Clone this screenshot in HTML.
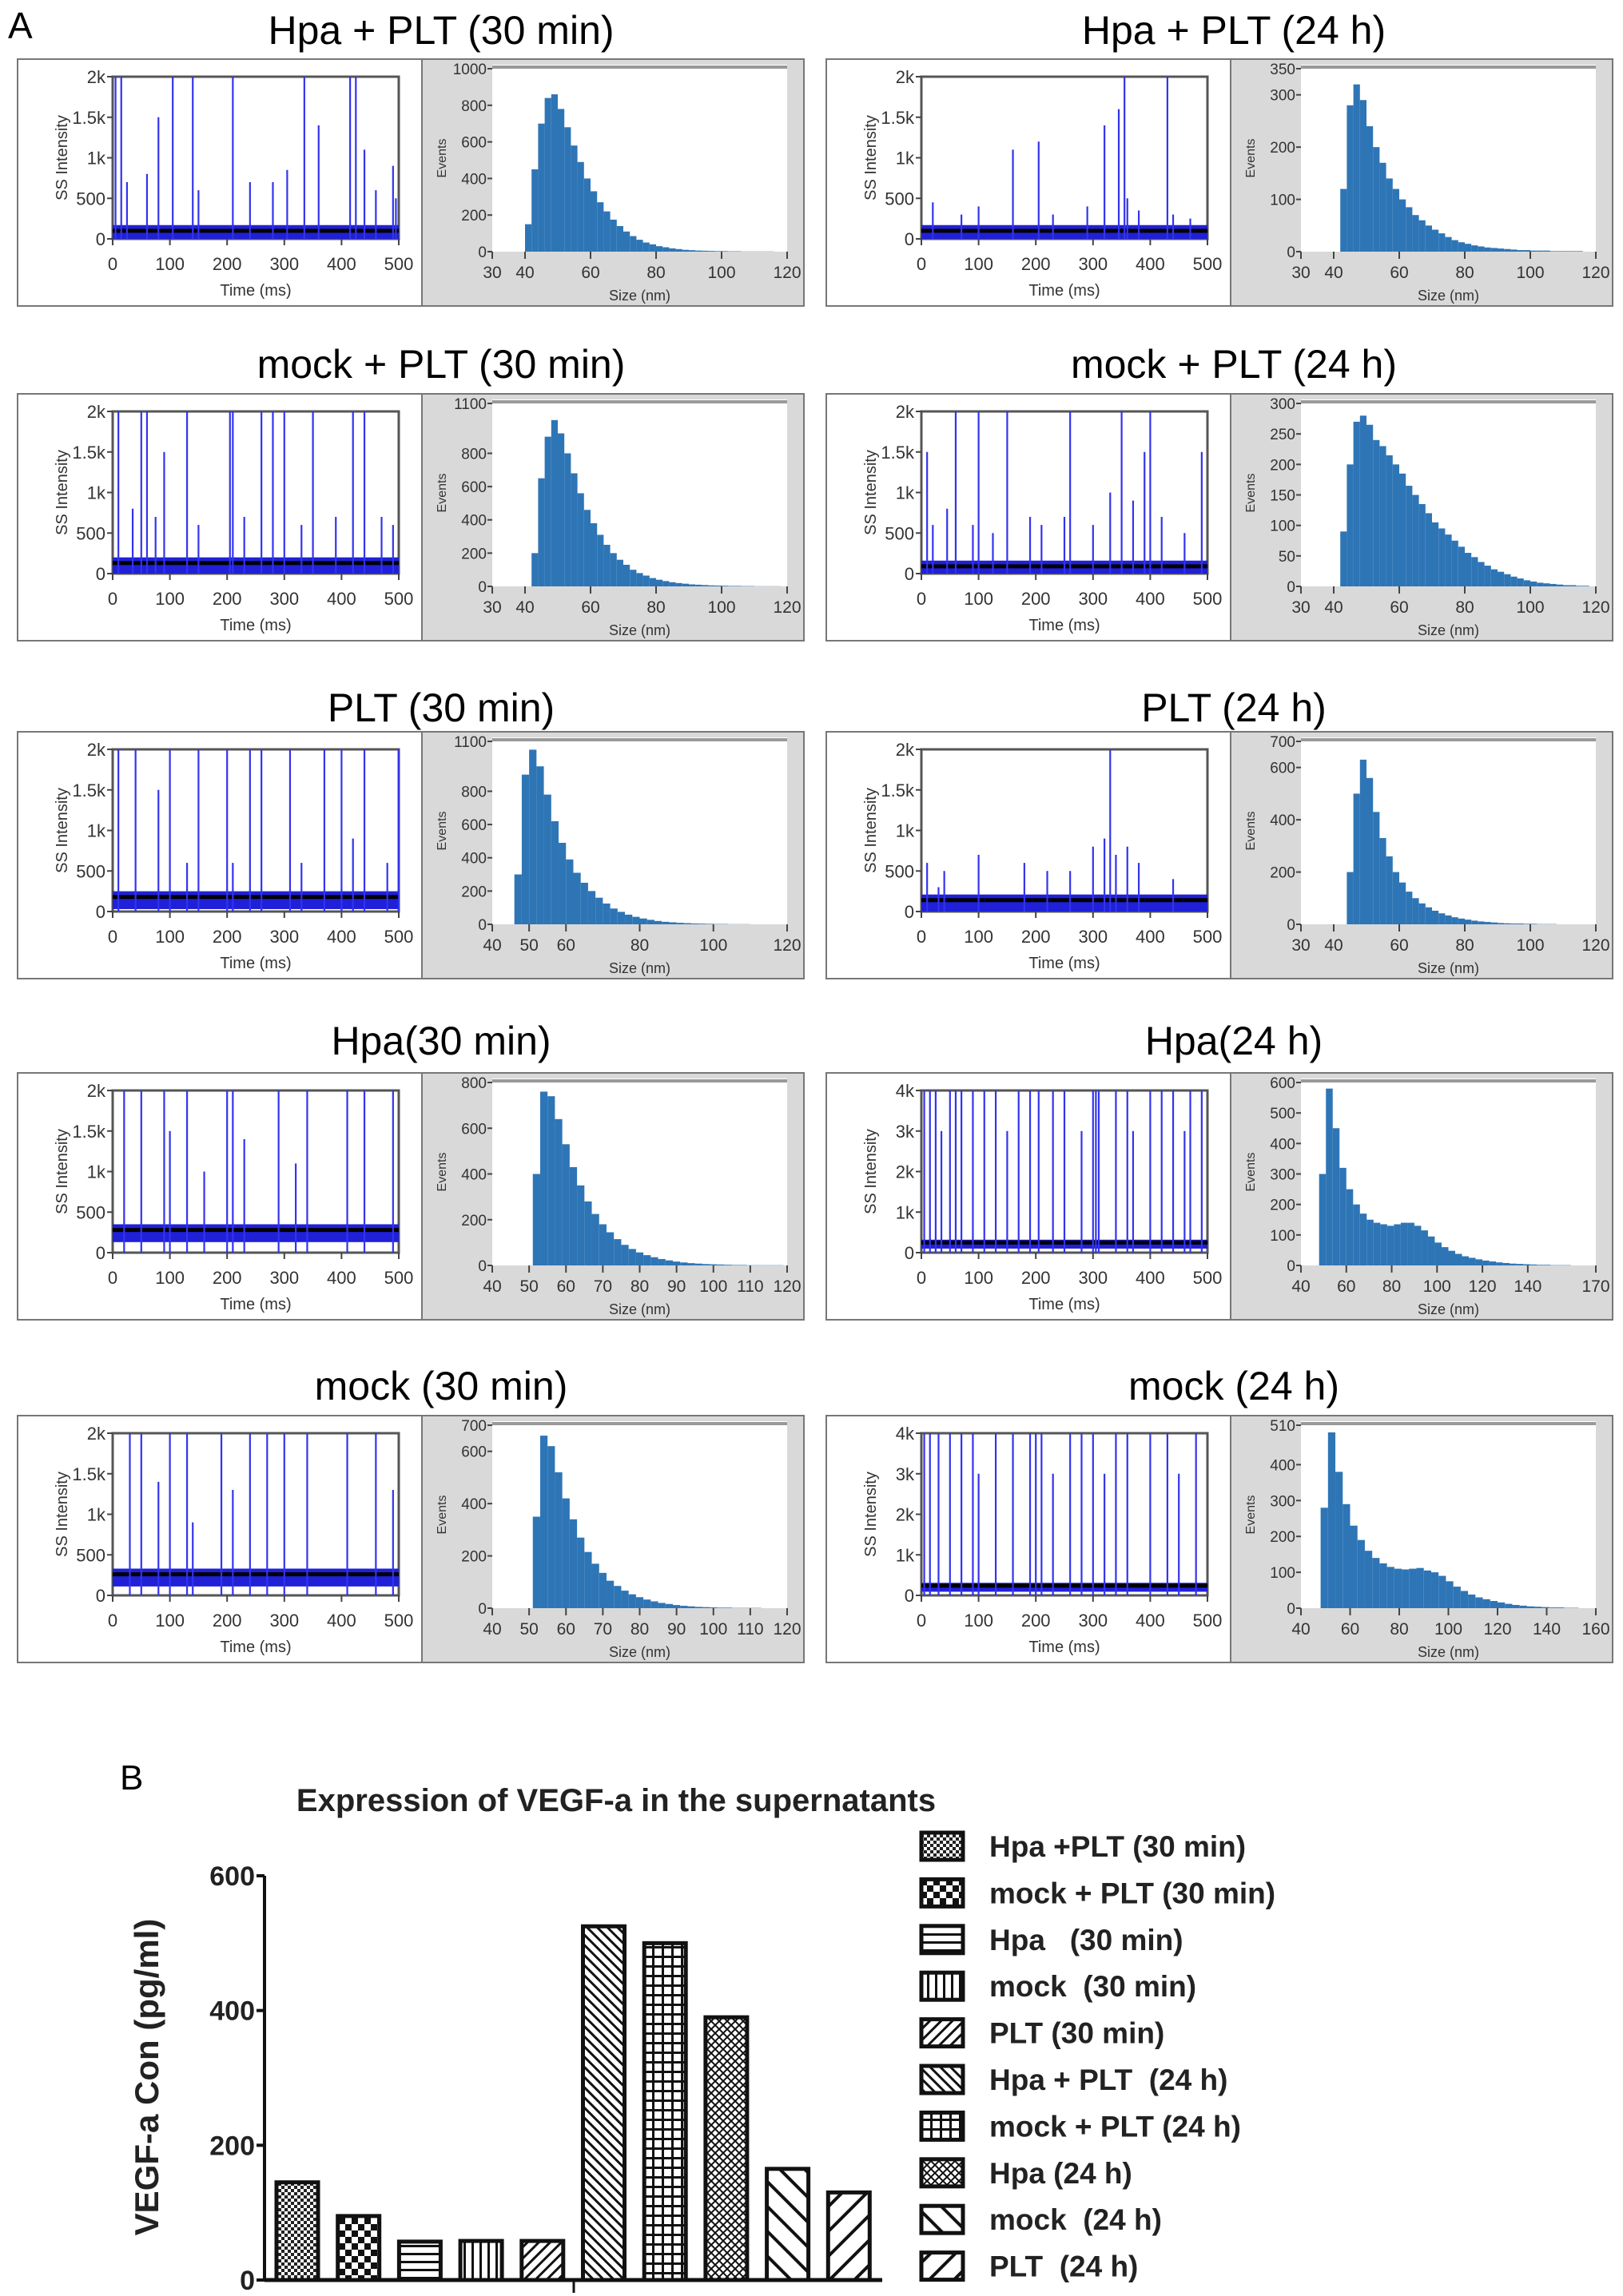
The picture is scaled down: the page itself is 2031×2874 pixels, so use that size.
<!DOCTYPE html>
<html><head><meta charset="utf-8"><style>
body{margin:0;background:#fff}
svg{display:block;font-family:"Liberation Sans",sans-serif}
</style></head><body>
<svg id="fig" width="2031" height="2874" viewBox="0 0 2031 2874" xmlns="http://www.w3.org/2000/svg">
<defs>
<pattern id="p0" patternUnits="userSpaceOnUse" width="8" height="8"><rect width="8" height="8" fill="#fff"/><rect width="4" height="4" fill="#222"/><rect x="4" y="4" width="4" height="4" fill="#222"/></pattern>
<pattern id="p1" patternUnits="userSpaceOnUse" width="16" height="16"><rect width="16" height="16" fill="#fff"/><rect width="8" height="8" fill="#111"/><rect x="8" y="8" width="8" height="8" fill="#111"/></pattern>
<pattern id="p2" patternUnits="userSpaceOnUse" width="10" height="10"><rect width="10" height="10" fill="#fff"/><rect y="0" width="10" height="3" fill="#111"/></pattern>
<pattern id="p3" patternUnits="userSpaceOnUse" width="10" height="10"><rect width="10" height="10" fill="#fff"/><rect x="0" width="3" height="10" fill="#111"/></pattern>
<pattern id="p4" patternUnits="userSpaceOnUse" width="10" height="10" patternTransform="rotate(45)"><rect width="10" height="10" fill="#fff"/><rect width="3" height="10" fill="#111"/></pattern>
<pattern id="p5" patternUnits="userSpaceOnUse" width="9" height="9" patternTransform="rotate(-45)"><rect width="9" height="9" fill="#fff"/><rect width="3" height="9" fill="#111"/></pattern>
<pattern id="p6" patternUnits="userSpaceOnUse" width="12" height="12"><rect width="12" height="12" fill="#fff"/><rect width="12" height="3" fill="#111"/><rect width="3" height="12" fill="#111"/></pattern>
<pattern id="p7" patternUnits="userSpaceOnUse" width="10" height="10"><rect width="10" height="10" fill="#fff"/><path d="M0 10L10 0M0 0L10 10" stroke="#111" stroke-width="2"/></pattern>
<pattern id="p8" patternUnits="userSpaceOnUse" width="22" height="22" patternTransform="rotate(-45)"><rect width="22" height="22" fill="#fff"/><rect width="4" height="22" fill="#111"/></pattern>
<pattern id="p9" patternUnits="userSpaceOnUse" width="22" height="22" patternTransform="rotate(45)"><rect width="22" height="22" fill="#fff"/><rect width="4" height="22" fill="#111"/></pattern>
</defs>
<text x="10" y="48" font-size="46">A</text>
<g id="panels"></g>
<g id="barchart"></g>
</svg>
<script>
// ---------- Panel A data ----------
const panelTitles = ["Hpa + PLT (30 min)","Hpa + PLT (24 h)","mock + PLT (30 min)","mock + PLT (24 h)","PLT (30 min)","PLT (24 h)","Hpa(30 min)","Hpa(24 h)","mock (30 min)","mock (24 h)"];
const timeMax = [2000,2000,2000,2000,2000,2000,2000,4000,2000,4000];
const baseline = [100,100,130,90,180,140,280,250,260,240];
const spikeT = [
 [5,15,25,60,80,105,140,150,210,240,280,305,335,360,415,425,440,460,490,495],
 [20,70,100,160,205,230,290,320,345,355,360,380,430,440,470],
 [10,35,50,60,75,90,130,150,205,210,230,260,280,300,330,350,390,420,440,470,490],
 [10,20,45,60,90,100,125,150,190,210,250,260,300,330,350,370,390,400,420,460,490],
 [10,40,80,100,130,150,200,210,240,260,310,330,370,400,420,440,480,500],
 [10,30,40,100,180,220,260,300,320,330,340,360,380,440],
 [20,50,90,100,130,160,200,210,230,290,320,340,410,440,490],
 [5,15,25,35,50,60,70,90,110,130,150,170,190,205,230,250,280,300,305,310,340,360,370,400,420,440,460,470,490],
 [30,50,80,100,130,140,190,210,240,270,300,340,410,460,490],
 [5,15,30,50,70,90,100,130,160,190,200,210,230,260,280,300,320,340,360,400,430,450,480]
];
const spikeH = [
 [2000,2000,700,800,1500,2000,2000,600,2000,700,700,850,2000,1400,2000,2000,1100,600,900,500],
 [450,300,400,1100,1200,300,400,1400,1600,2000,500,350,2000,300,250],
 [2000,800,2000,2000,700,1500,2000,600,2000,2000,700,2000,2000,2000,600,2000,700,2000,2000,700,600],
 [1500,600,800,2000,600,2000,500,2000,700,600,700,2000,600,1000,2000,900,1500,2000,700,500,1500],
 [2000,2000,1500,2000,600,2000,2000,600,2000,2000,2000,600,2000,2000,900,2000,600,2000],
 [600,300,500,700,600,500,500,800,900,2000,700,800,600,400],
 [2000,2000,2000,1500,2000,1000,2000,2000,1400,2000,1100,2000,2000,2000,2000],
 [4000,4000,4000,3000,4000,4000,4000,4000,4000,4000,3000,4000,4000,4000,4000,4000,3000,4000,4000,4000,4000,4000,3000,4000,4000,4000,3000,4000,4000],
 [2000,2000,1400,2000,2000,900,2000,1300,2000,2000,2000,2000,2000,2000,1300],
 [4000,4000,4000,4000,4000,4000,3000,4000,4000,4000,4000,4000,3000,4000,4000,4000,3000,4000,4000,4000,4000,3000,4000]
];
const histMax = [1000,350,1100,300,1100,700,800,600,700,510];
const histTicks = [[0,200,400,600,800,1000],[0,100,200,300,350],[0,200,400,600,800,1100],[0,50,100,150,200,250,300],[0,200,400,600,800,1100],[0,200,400,600,700],[0,200,400,600,800],[0,100,200,300,400,500,600],[0,200,400,600,700],[0,100,200,300,400,510]];
const histXMin = [30,30,30,30,40,30,40,40,40,40];
const histXMax = [120,120,120,120,120,120,120,170,120,160];
const histXTicks = [[30,40,60,80,100,120],[30,40,60,80,100,120],[30,40,60,80,100,120],[30,40,60,80,100,120],[40,50,60,80,100,120],[30,40,60,80,100,120],[40,50,60,70,80,90,100,110,120],[40,60,80,100,120,140,170],[40,50,60,70,80,90,100,110,120],[40,60,80,100,120,140,160]];
const histStart = [40,42,42,42,46,44,51,48,51,48];
const histStep = [2,2,2,2,2,2,2,3,2,3];
const histCounts = [
 [150,450,700,840,860,780,680,580,490,400,330,270,220,175,140,110,85,65,50,40,30,24,18,14,10,8,6,5,4,3,3,2,2,1,1,1,1,1,0,0],
 [120,280,320,290,240,200,170,140,120,100,85,70,60,50,42,35,28,22,18,15,12,10,8,7,6,5,4,3,3,2,2,2,1,1,1,1,1,0,0],
 [200,650,900,1000,920,800,680,560,460,380,310,250,200,160,130,100,80,65,50,40,32,25,20,16,12,10,8,6,5,4,3,3,2,2,1,1,1,1,0],
 [90,200,270,280,265,240,230,215,200,185,165,150,135,120,105,95,85,75,65,55,48,40,34,28,24,20,16,13,10,8,6,5,4,3,2,2,1,1,0],
 [300,900,1050,950,780,620,490,390,310,250,200,160,125,95,75,58,45,35,27,20,15,12,9,7,5,4,3,2,2,1,1,1,0,0,0,0,0],
 [200,500,630,560,430,330,260,200,160,125,100,80,65,52,42,34,27,22,18,14,11,9,7,5,4,3,3,2,2,1,1,1,0,0,0,0,0,0],
 [400,760,740,640,530,430,350,280,225,180,145,115,90,72,57,45,36,28,22,17,13,10,8,6,5,4,3,2,2,1,1,1,1,1,0],
 [300,580,450,320,250,200,170,150,140,135,130,135,140,140,130,115,95,75,60,48,38,30,25,20,16,13,10,8,6,5,4,3,2,2,1,1,1,0,0,0,0],
 [350,660,620,520,420,340,270,215,170,135,105,85,67,53,42,33,26,20,16,12,9,7,5,4,3,2,2,1,1,1,1,0,0,0,0],
 [280,490,380,290,230,190,160,140,125,115,110,108,110,112,105,100,90,75,60,48,38,30,25,20,16,12,9,7,5,4,3,2,2,1,1,0,0,0,0]
];
// ---------- Panel B data ----------
const barCategories = ["Hpa +PLT (30 min)","mock + PLT (30 min)","Hpa   (30 min)","mock  (30 min)","PLT (30 min)","Hpa + PLT  (24 h)","mock + PLT (24 h)","Hpa (24 h)","mock  (24 h)","PLT  (24 h)"];
const barValues = [145,95,57,58,58,525,500,390,165,130];
const barTicks = [0,200,400,600];

const NS="http://www.w3.org/2000/svg";
function mk(tag,attrs,parent,txt){const e=document.createElementNS(NS,tag);for(const k in attrs)e.setAttribute(k,attrs[k]);if(txt!==undefined)e.textContent=txt;parent.appendChild(e);return e;}
const panelsG=document.getElementById('panels');
const rowTops=[74,493,916,1343,1772];
const titleY=[55,473,903,1320,1752];
const colX=[22,1034];
function fmtK(v){return v===0?"0":(v>=1000?(v/1000)+"k":String(v));}
panelTitles.forEach((title,i)=>{
  const row=Math.floor(i/2), col=i%2;
  const X=colX[col], Y=rowTops[row];
  const g=mk('g',{},panelsG);
  
  
  const t=mk('text',{x:X+(col?510:530),y:titleY[row],'font-size':50,'text-anchor':'middle'},g,title);
  
  
  const tb=mk('rect',{x:X,y:Y,width:506,height:309,fill:'#fff',stroke:'#777','stroke-width':2},g);
  
  
  const px0=X+119,px1=X+477,py0=Y+22,py1=Y+225;
  const tx=v=>px0+(v/500)*(px1-px0), ty=v=>py1-(v/timeMax[i])*(py1-py0);
  mk('rect',{x:px0,y:py0,width:px1-px0,height:py1-py0,fill:'#fff',stroke:'#555','stroke-width':3},g);
  const bLo=Math.max(0,baseline[i]-150), bHi=baseline[i]+70;
  const band=mk('rect',{x:px0,y:ty(bHi),width:px1-px0,height:ty(bLo)-ty(bHi),fill:'#2020d8'},g);
  
  
  mk('line',{x1:px0,x2:px1,y1:ty(baseline[i]),y2:ty(baseline[i]),stroke:'#000','stroke-width':5},g);
  spikeT[i].forEach((tt,j)=>{
    const s=mk('line',{x1:tx(tt),x2:tx(tt),y1:ty(0),y2:ty(spikeH[i][j]),stroke:'#3333ee','stroke-width':2.2},g);
    
    
  });
  const ystep=timeMax[i]===4000?1000:500;
  for(let v=0;v<=timeMax[i];v+=ystep){
    mk('line',{x1:px0-7,x2:px0,y1:ty(v),y2:ty(v),stroke:'#444','stroke-width':2},g);
    mk('text',{x:px0-9,y:ty(v)+8,'font-size':22,'text-anchor':'end',fill:'#333'},g,fmtK(v));
  }
  for(let v=0;v<=500;v+=100){
    mk('line',{x1:tx(v),x2:tx(v),y1:py1,y2:py1+8,stroke:'#444','stroke-width':2},g);
    mk('text',{x:tx(v),y:Y+264,'font-size':22,'text-anchor':'middle',fill:'#333'},g,String(v));
  }
  mk('text',{x:(px0+px1)/2,y:Y+296,'font-size':20,'text-anchor':'middle',fill:'#333'},g,'Time (ms)');
  mk('text',{x:0,y:0,'font-size':20,'text-anchor':'middle',fill:'#333',transform:`translate(${X+62},${(py0+py1)/2}) rotate(-90)`},g,'SS Intensity');
  const H=X+506;
  const hb=mk('rect',{x:H,y:Y,width:478,height:309,fill:'#d9d9d9',stroke:'#777','stroke-width':2},g);
  
  
  const hx0=H+88,hx1=H+457,hy0=Y+7,hy1=Y+241;
  mk('rect',{x:hx0,y:hy0,width:hx1-hx0,height:hy1-hy0,fill:'#fff'},g);
  mk('line',{x1:hx0,x2:hx1,y1:hy0+3,y2:hy0+3,stroke:'#999','stroke-width':4},g);
  const hxs=v=>hx0+(v-histXMin[i])/(histXMax[i]-histXMin[i])*(hx1-hx0);
  const hys=v=>hy1-(v/histMax[i])*(hy1-hy0-5);
  histCounts[i].forEach((c,j)=>{
    const a=histStart[i]+j*histStep[i];
    if(a>=histXMax[i]) return;
    const b=mk('rect',{x:hxs(a),y:hys(c),width:Math.max(0.5,hxs(a+histStep[i])-hxs(a)),height:hy1-hys(c),fill:'#2e75b6'},g);
    
    
  });
  histTicks[i].forEach(v=>{
    mk('line',{x1:hx0-6,x2:hx0,y1:hys(v),y2:hys(v),stroke:'#444','stroke-width':2},g);
    mk('text',{x:hx0-7,y:hys(v)+7,'font-size':19,'text-anchor':'end',fill:'#333'},g,String(v));
  });
  histXTicks[i].forEach(v=>{
    mk('line',{x1:hxs(v),x2:hxs(v),y1:hy1,y2:hy1+9,stroke:'#444','stroke-width':2},g);
    mk('text',{x:hxs(v),y:Y+274,'font-size':21,'text-anchor':'middle',fill:'#333'},g,String(v));
  });
  mk('text',{x:(hx0+hx1)/2,y:Y+302,'font-size':18,'text-anchor':'middle',fill:'#333'},g,'Size (nm)');
  mk('text',{x:0,y:0,'font-size':16,'text-anchor':'middle',fill:'#333',transform:`translate(${H+30},${(hy0+hy1)/2}) rotate(-90)`},g,'Events');
});
// ---------- Bar chart ----------
const bc=document.getElementById('barchart');
const ax0=331, ax1=1104, y0=2854, yTop=2348;
const by=v=>y0-(v/600)*(y0-yTop);
const bx=i=>346+i*76.7;
mk('text',{x:150,y:2240,'font-size':44},bc,'B');
const ttl=mk('text',{x:771,y:2267,'font-size':40,'font-weight':'bold','text-anchor':'middle',fill:'#222'},bc,'Expression of VEGF-a in the supernatants');


const yt=mk('text',{x:0,y:0,'font-size':42,'font-weight':'bold','text-anchor':'middle',fill:'#222',transform:'translate(198,2600) rotate(-90)'},bc,'VEGF-a Con (pg/ml)');


barValues.forEach((v,i)=>{
  const r=mk('rect',{x:bx(i),y:by(v),width:52,height:y0-by(v),fill:`url(#p${i})`,stroke:'#111','stroke-width':5},bc);
  
  
});
mk('line',{x1:ax0,x2:ax0,y1:yTop,y2:y0+2,stroke:'#111','stroke-width':4},bc);
mk('line',{x1:ax0,x2:ax1,y1:y0,y2:y0,stroke:'#111','stroke-width':5},bc);
mk('line',{x1:718,x2:718,y1:y0,y2:y0+16,stroke:'#111','stroke-width':3},bc);
barTicks.forEach(v=>{
  mk('line',{x1:ax0-10,x2:ax0,y1:by(v),y2:by(v),stroke:'#111','stroke-width':4},bc);
  const tl=mk('text',{x:ax0-12,y:by(v)+12,'font-size':34,'font-weight':'bold','text-anchor':'end',fill:'#222'},bc,String(v));
  
  
});
barCategories.forEach((c,i)=>{
  const cy=2311+i*58.4;
  const lg=mk('g',{},bc);
  
  
  mk('rect',{x:1153,y:cy-17,width:52,height:34,fill:`url(#p${i})`,stroke:'#111','stroke-width':5},lg);
  mk('text',{x:1238,y:cy+13,'font-size':37,'font-weight':'bold',fill:'#222',style:'white-space:pre'},lg,c);
});
</script>
</body></html>
